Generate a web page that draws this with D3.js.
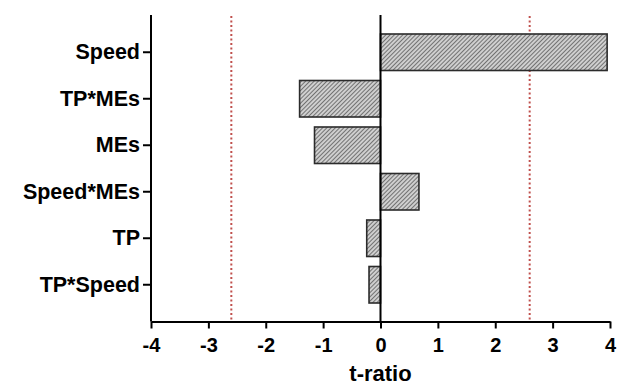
<!DOCTYPE html>
<html>
<head>
<meta charset="utf-8">
<script src="https://cdn.jsdelivr.net/npm/d3@7"></script>
<style>
  body { margin: 0; background: #fff; }
  svg text { font-family: "Liberation Sans", Arial, sans-serif; font-weight: bold; fill: #000; }
</style>
</head>
<body>
<div id="chart"></div>
<script>
// data
const terms = ['Speed', 'TP*MEs', 'MEs', 'Speed*MEs', 'TP', 'TP*Speed'];
const tRatios = [3.95, -1.41, -1.15, 0.67, -0.24, -0.20];
const xTicks = [-4, -3, -2, -1, 0, 1, 2, 3, 4];
const critical = [-2.6, 2.6];

const width = 635, height = 390;
const plotLeft = 151, plotRight = 610, plotTop = 15, plotBottom = 321.5;

const svg = d3.select('#chart')
  .append('svg')
    .attr('width', width)
    .attr('height', height);

// hatch pattern
const pat = svg.append('defs').append('pattern')
  .attr('id', 'hatch')
  .attr('patternUnits', 'userSpaceOnUse')
  .attr('width', 3)
  .attr('height', 3)
  .attr('patternTransform', 'rotate(45)');
pat.append('rect').attr('width', 3).attr('height', 3).attr('fill', '#cfcfcf');
pat.append('line')
  .attr('x1', 0).attr('y1', 0).attr('x2', 0).attr('y2', 3)
  .attr('stroke', '#333').attr('stroke-width', 1.2);

const x = d3.scaleLinear().domain([-4, 4]).range([plotLeft, plotRight]);
const y = d3.scaleBand().domain(terms).range([29, 308]).paddingInner(0.215).paddingOuter(0.1075);

// critical value lines
svg.selectAll('line.crit')
  .data(critical)
  .enter()
  .append('line')
  .attr('class', 'crit')
  .attr('x1', d => x(d)).attr('x2', d => x(d))
  .attr('y1', plotTop + 1).attr('y2', plotBottom - 2)
  .attr('stroke', '#c0504d')
  .attr('stroke-width', 2)
  .attr('stroke-dasharray', '2,2.5');

// bars
svg.selectAll('rect.bar')
  .data(terms)
  .enter()
  .append('rect')
  .attr('class', 'bar')
  .attr('x', (d, i) => x(Math.min(0, tRatios[i])))
  .attr('width', (d, i) => Math.abs(x(tRatios[i]) - x(0)))
  .attr('y', d => y(d))
  .attr('height', y.bandwidth())
  .attr('fill', 'url(#hatch)')
  .attr('stroke', '#2b2b2b')
  .attr('stroke-width', 1.6);

// zero line
svg.append('line')
  .attr('x1', x(0)).attr('x2', x(0))
  .attr('y1', plotTop).attr('y2', plotBottom)
  .attr('stroke', '#000')
  .attr('stroke-width', 2);

// x axis
const xAxis = svg.append('g')
  .attr('transform', 'translate(0,' + plotBottom + ')')
  .call(d3.axisBottom(x).tickValues(xTicks).tickSize(7).tickPadding(9).tickSizeOuter(0).tickFormat(d3.format('d')));

// y axis
const yAxis = svg.append('g')
  .attr('transform', 'translate(' + plotLeft + ',0)')
  .call(d3.axisLeft(y).tickSize(8).tickPadding(3).tickSizeOuter(0));

yAxis.select('.domain').attr('d', 'M0,' + plotTop + 'V' + plotBottom);

[xAxis, yAxis].forEach(g => {
  g.select('.domain').attr('stroke', '#000').attr('stroke-width', 2);
  g.selectAll('.tick line').attr('stroke', '#000').attr('stroke-width', 2);
  g.selectAll('text').attr('font-family', '"Liberation Sans", Arial, sans-serif').attr('font-weight', 'bold').attr('fill', '#000');
});
xAxis.selectAll('text').attr('font-size', 20).text(d => d < 0 ? '-' + Math.abs(d) : d);
yAxis.selectAll('text').attr('font-size', 21.5);

svg.append('text')
  .attr('x', x(0))
  .attr('y', 381)
  .attr('text-anchor', 'middle')
  .attr('font-size', 22)
  .text('t-ratio');
</script>
</body>
</html>
